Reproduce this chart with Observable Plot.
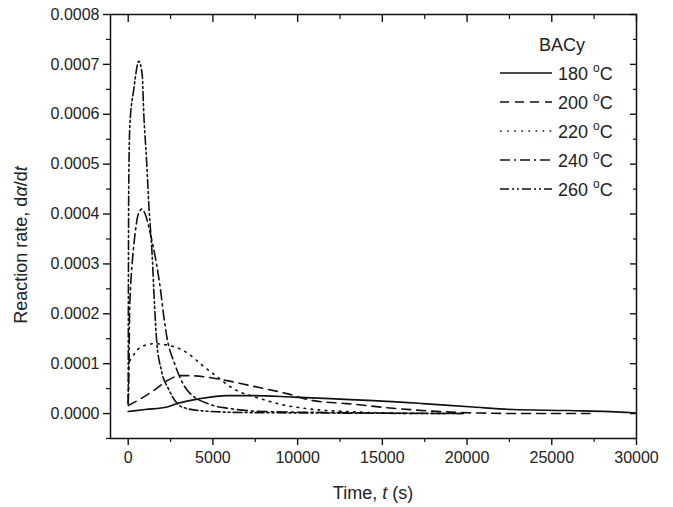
<!DOCTYPE html>
<html>
<head>
<meta charset="utf-8">
<script src="https://cdn.jsdelivr.net/npm/d3@7"></script>
<script src="https://cdn.jsdelivr.net/npm/@observablehq/plot@0.6"></script>
<style>
  html, body { margin: 0; padding: 0; background: #fff; }
  #chart { width: 673px; height: 507px; }
</style>
</head>
<body>
<div id="chart"></div>
<script>
// ---- Data ----
const seriesNames = ["180 °C", "200 °C", "220 °C", "240 °C", "260 °C"];
const legendTitle = "BACy";

const t180 = [0, 1000, 2300, 2900, 4260, 5830, 7200, 9760, 11920, 13100, 14460, 17400, 20350, 22700, 26000, 29600, 30000];
const v180 = [0.000004, 0.000008, 0.000013, 0.00002, 0.00003, 0.000036, 0.000036, 0.000033, 0.00003, 0.000028, 0.000026, 0.00002, 0.000013, 0.000008, 0.000006, 0.000002, 0.000001];

const t200 = [0, 900, 1500, 2300, 3080, 3600, 4650, 5830, 7200, 9360, 10900, 12900, 15850, 20760, 24000, 27250];
const v200 = [0.000016, 0.000033, 0.000046, 0.000066, 0.000076, 0.000076, 0.000073, 0.000066, 0.000056, 0.00004, 0.000026, 0.00002, 0.00001, 0.000001, 0.0, 0.0];

const t220 = [0, 40, 236, 725, 1510, 2790, 3560, 4260, 5200, 6200, 7800, 8800, 10500, 13000, 17000];
const v220 = [0.00002, 0.0001, 0.000113, 0.000133, 0.00014, 0.000133, 0.00012, 0.0001, 0.000075, 0.00005, 0.00003, 0.00002, 0.00001, 0.000004, 0.0];

const t240 = [0, 50, 80, 135, 230, 370, 600, 820, 1000, 1310, 1670, 1900, 2080, 2300, 2740, 3500, 4850, 6000, 8000, 12000, 19800];
const v240 = [0.00002, 0.0001, 0.0002, 0.00025, 0.0003, 0.00035, 0.0004, 0.00041, 0.0004, 0.00036, 0.0003, 0.00025, 0.0002, 0.00015, 0.0001, 0.000046, 0.000018, 0.00001, 0.000004, 0.000002, 0.0];

const t260 = [0, 15, 30, 100, 330, 626, 825, 920, 1080, 1215, 1410, 1550, 1670, 1960, 2370, 3180, 4500, 7000, 12000, 19800];
const v260 = [0.00002, 0.0003, 0.00045, 0.00058, 0.00065, 0.000706, 0.00068, 0.0006, 0.00051, 0.00042, 0.00032, 0.00022, 0.00015, 0.000086, 0.00005, 0.000013, 0.000005, 0.000002, 0.000001, 0.0];

const xMajor = [0, 5000, 10000, 15000, 20000, 25000, 30000];
const xMinor = [2500, 7500, 12500, 17500, 22500, 27500];
const yMajor = [0, 0.0001, 0.0002, 0.0003, 0.0004, 0.0005, 0.0006, 0.0007, 0.0008];
const yMinor = [-0.00005, 0.00005, 0.00015, 0.00025, 0.00035, 0.00045, 0.00055, 0.00065, 0.00075];

// ---- Styles ----
const dashes = ["none", "9,6", "1.6,5.5", "10,4,2,4", "9,3,2,3,2,3"];
const ink = "#111";
const font = "'Liberation Sans', Arial, Helvetica, sans-serif";

const raw = [[t180, v180], [t200, v200], [t220, v220], [t240, v240], [t260, v260]];
const rows = raw.flatMap(([ts, vs], i) => ts.map((t, j) => ({series: seriesNames[i], t, v: vs[j]})));

const lineMarks = seriesNames.map((name, i) =>
  Plot.line(rows.filter(d => d.series === name), {
    x: "t", y: "v", stroke: ink, strokeWidth: 1.6,
    strokeDasharray: dashes[i], curve: "monotone-x"
  })
);

const fmtY = d => d.toFixed(4);

const chart = Plot.plot({
  width: 673,
  height: 507,
  marginLeft: 110,
  marginRight: 37,
  marginTop: 14,
  marginBottom: 69,
  style: {fontFamily: font, fontSize: "16px", color: "#222", background: "#fff"},
  x: {domain: [-1045, 30000], label: null},
  y: {domain: [-0.00005, 0.0008], label: null},
  marks: [
    ...lineMarks,
    Plot.frame({stroke: ink, strokeWidth: 1.5}),
    Plot.axisX({anchor: "bottom", ticks: xMajor, tickSize: 7, tickPadding: 6, tickFormat: d => String(d), label: null, fontSize: 16, stroke: ink, strokeWidth: 1.4}),
    Plot.axisX({anchor: "bottom", ticks: xMinor, tickSize: 4, tickFormat: () => "", label: null, stroke: ink, strokeWidth: 1.2}),
    Plot.axisX({anchor: "top", ticks: xMajor, tickSize: -7, tickFormat: () => "", label: null, stroke: ink, strokeWidth: 1.4}),
    Plot.axisX({anchor: "top", ticks: xMinor, tickSize: -4, tickFormat: () => "", label: null, stroke: ink, strokeWidth: 1.2}),
    Plot.axisY({anchor: "left", ticks: yMajor, tickSize: 7, tickPadding: 4, tickFormat: fmtY, label: null, fontSize: 16, stroke: ink, strokeWidth: 1.4}),
    Plot.axisY({anchor: "left", ticks: yMinor, tickSize: 4, tickFormat: () => "", label: null, stroke: ink, strokeWidth: 1.2}),
    Plot.axisY({anchor: "right", ticks: yMajor, tickSize: -7, tickFormat: () => "", label: null, stroke: ink, strokeWidth: 1.4}),
    Plot.axisY({anchor: "right", ticks: yMinor, tickSize: -4, tickFormat: () => "", label: null, stroke: ink, strokeWidth: 1.2})
  ]
});

document.getElementById("chart").appendChild(chart);

// ---- Axis titles and legend (layout decorations) ----
const svg = d3.select(chart);

const xt = svg.append("text")
  .attr("x", 373).attr("y", 499)
  .attr("text-anchor", "middle")
  .attr("font-family", font).attr("font-size", 18).attr("fill", "#222");
xt.append("tspan").text("Time, ");
xt.append("tspan").attr("font-style", "italic").text("t");
xt.append("tspan").text(" (s)");

const yt = svg.append("text")
  .attr("transform", "translate(27,245) rotate(-90)")
  .attr("text-anchor", "middle")
  .attr("font-family", font).attr("font-size", 18).attr("fill", "#222");
yt.append("tspan").text("Reaction rate, d");
yt.append("tspan").attr("font-style", "italic").text("α");
yt.append("tspan").text("/d");
yt.append("tspan").attr("font-style", "italic").text("t");

const lg = svg.append("g").attr("font-family", font).attr("font-size", 18).attr("fill", "#222");
lg.append("text").attr("x", 562).attr("y", 51).attr("text-anchor", "middle").text(legendTitle);
seriesNames.forEach((name, i) => {
  const cy = 73 + i * 29;
  lg.append("line")
    .attr("x1", 500).attr("x2", 552).attr("y1", cy).attr("y2", cy)
    .attr("stroke", ink).attr("stroke-width", 1.6)
    .attr("stroke-dasharray", dashes[i]);
  const parts = name.split(" °");
  const tx = lg.append("text").attr("x", 558).attr("y", cy + 6.5).attr("text-anchor", "start");
  tx.append("tspan").text(parts[0] + " ");
  tx.append("tspan").attr("font-size", 12).attr("dy", -8).text("o");
  tx.append("tspan").attr("dy", 8).text(parts[1]);
});
</script>
</body>
</html>
